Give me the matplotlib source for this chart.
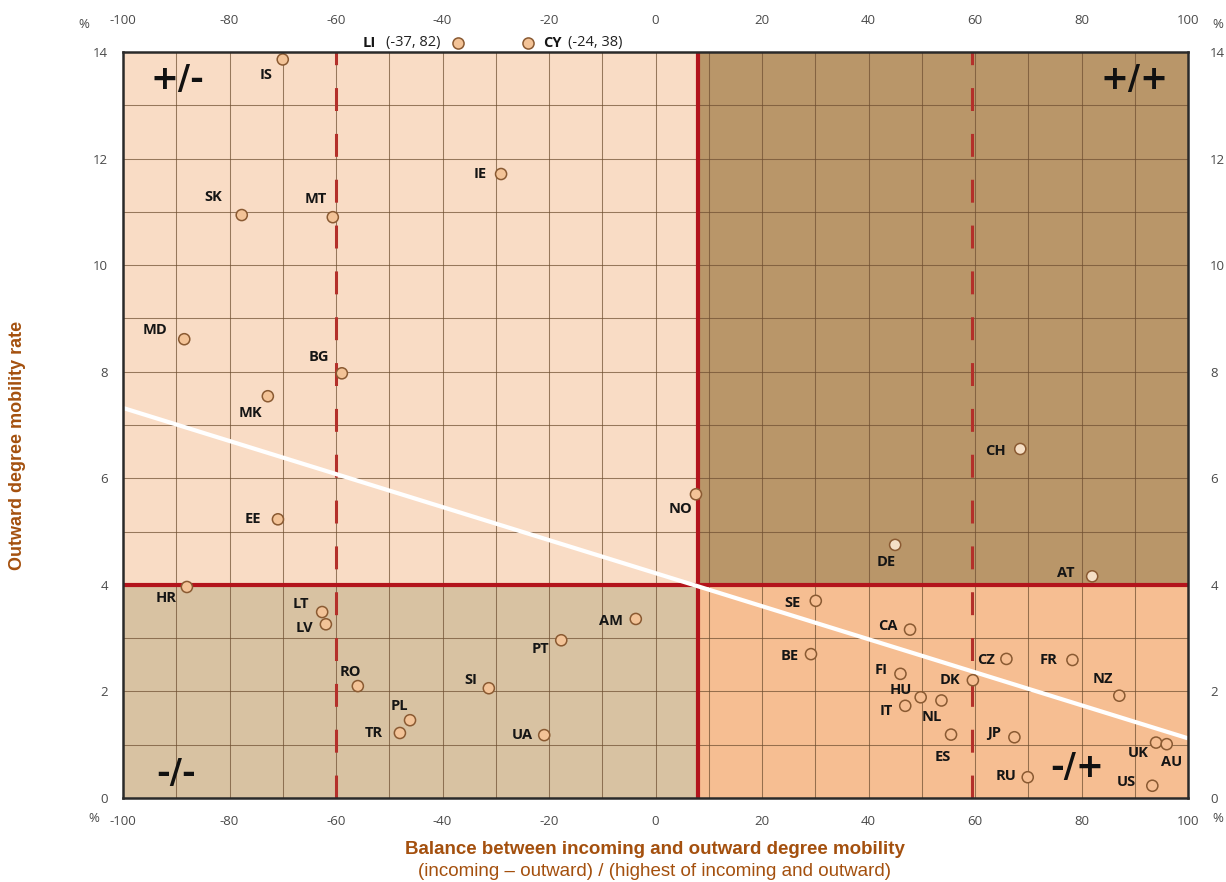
import matplotlib
matplotlib.use("Agg")
import matplotlib.pyplot as plt
from matplotlib.patches import Rectangle
import matplotlib.transforms as mtransforms
import numpy as np

plt.rcParams['axes.unicode_minus'] = False
plt.rcParams['font.family'] = ['Open Sans', 'DejaVu Sans']

# ---- data ----
countries = ["IS", "IE", "SK", "MT", "MD", "BG", "MK", "EE", "NO", "CH", "DE", "AT",
             "HR", "LT", "LV", "AM", "PT", "RO", "SI", "PL", "TR", "UA",
             "SE", "CA", "BE", "CZ", "FR", "FI", "DK", "HU", "IT", "NL", "ES",
             "JP", "RU", "NZ", "UK", "AU", "US"]
balance = [-70.0, -29.0, -77.7, -60.6, -88.5, -58.9, -72.8, -70.9, 7.6, 68.5, 45.0, 82.0,
           -88.0, -62.6, -61.9, -3.7, -17.7, -55.9, -31.3, -46.1, -48.0, -20.9,
           30.1, 47.8, 29.2, 65.9, 78.3, 46.0, 59.6, 49.8, 46.9, 53.7, 55.5,
           67.4, 69.9, 87.1, 94.0, 96.0, 93.3]
outward = [13.86, 11.71, 10.94, 10.90, 8.61, 7.97, 7.54, 5.23, 5.70, 6.55, 4.75, 4.16,
           3.96, 3.49, 3.26, 3.36, 2.96, 2.10, 2.06, 1.46, 1.22, 1.18,
           3.70, 3.16, 2.70, 2.61, 2.59, 2.33, 2.21, 1.89, 1.73, 1.83, 1.19,
           1.14, 0.39, 1.92, 1.04, 1.01, 0.23]

# off-scale countries (shown above the chart)
off_names = ["LI", "CY"]
off_balance = [-37, -24]
off_outward = [82, 38]

trend_x = [-100, 100]
trend_y = [7.32, 1.12]

x_split = 8.0
y_split = 4.0
dash_x = [-60, 59.4]

x_ticks = [-100, -80, -60, -40, -20, 0, 20, 40, 60, 80, 100]
y_ticks = [0, 2, 4, 6, 8, 10, 12, 14]

# ---- label offsets (pixels) ----
label_off = {
    "IS": (-17, -16), "IE": (-21, 0), "SK": (-28, 18), "MT": (-17, 18), "MD": (-29, 9),
    "BG": (-23, 16), "MK": (-17, -17), "EE": (-25, 0), "NO": (-15, -15), "CH": (-25, -2),
    "DE": (-9, -17), "AT": (-26, 3), "HR": (-21, -11), "LT": (-21, 8), "LV": (-21, -4),
    "AM": (-25, -2), "PT": (-21, -9), "RO": (-7, 14), "SI": (-18, 8), "PL": (-11, 14),
    "TR": (-26, 0), "UA": (-22, 0), "SE": (-23, -2), "CA": (-22, 4), "BE": (-21, -2),
    "CZ": (-20, -1), "FR": (-24, 0), "FI": (-19, 4), "DK": (-23, 0), "HU": (-20, 7),
    "IT": (-19, -5), "NL": (-10, -17), "ES": (-8, -22), "JP": (-20, 4), "RU": (-22, 1),
    "NZ": (-16, 17), "UK": (-18, -10), "AU": (5, -18), "US": (-26, 4),
}

c_tl = "#f9dcc5"
c_tr = "#b99669"
c_bl = "#d8c2a2"
c_br = "#f6be92"
red = "#b3141c"
brown_txt = "#a4500e"
tick_col = "#4a4a4a"

fig = plt.figure(figsize=(12.26, 8.82), dpi=100)
ax = fig.add_axes([123/1226, 1 - 798/882, (1188-123)/1226, (798-52)/882])
ax.set_xlim(-100, 100)
ax.set_ylim(0, 14)

# quadrants
ax.add_patch(Rectangle((-100, y_split), x_split + 100, 14 - y_split, color=c_tl, zorder=0, lw=0))
ax.add_patch(Rectangle((x_split, y_split), 100 - x_split, 14 - y_split, color=c_tr, zorder=0, lw=0))
ax.add_patch(Rectangle((-100, 0), x_split + 100, y_split, color=c_bl, zorder=0, lw=0))
ax.add_patch(Rectangle((x_split, 0), 100 - x_split, y_split, color=c_br, zorder=0, lw=0))

# grid
ax.set_xticks(x_ticks)
ax.set_xticks(np.arange(-90, 100, 20), minor=True)
ax.set_yticks(y_ticks)
ax.set_yticks(np.arange(1, 14, 2), minor=True)
ax.grid(True, which="both", color="#6e4e30", lw=0.75, alpha=0.7, zorder=1)
ax.set_axisbelow(True)

ax.tick_params(which="both", length=0)
ax.tick_params(axis="x", labeltop=True, labelbottom=True, labelsize=9.5, colors=tick_col, pad=12)
ax.tick_params(axis="y", labelleft=True, labelright=True, labelsize=9.5, colors=tick_col, pad=11)
ax.set_xticklabels([str(v) for v in x_ticks])
ax.set_yticklabels([str(v) for v in y_ticks])
for t in ax.xaxis.get_major_ticks():
    t.label2.set_transform(t.label2.get_transform() +
                           mtransforms.ScaledTranslation(0, 8/100, fig.dpi_scale_trans))
for t in ax.yaxis.get_major_ticks():
    t.label2.set_transform(t.label2.get_transform() +
                           mtransforms.ScaledTranslation(7/100, 0, fig.dpi_scale_trans))

for s in ax.spines.values():
    s.set_color("#2a2a2a")
    s.set_linewidth(1.8)
    s.set_zorder(6)

# divider lines
ax.axhline(y_split, color=red, lw=3, zorder=3)
ax.axvline(x_split, color=red, lw=3, zorder=3)
for dx in dash_x:
    ax.plot([dx, dx], [0, 14], color="#b4302a", lw=2.2, dashes=(7.5, 7.5), zorder=3)

# trend line
ax.plot(trend_x, trend_y, color="white", lw=3, zorder=4, solid_capstyle="butt")

# points
def fill_for(x, y):
    if x >= x_split and y < y_split:
        return c_br
    if x >= x_split:
        return "#f5dfc6"
    return "#f3c397"

fills = [fill_for(x, y) for x, y in zip(balance, outward)]
ax.scatter(balance, outward, s=64, c=fills, edgecolors="#8a5a32", linewidths=1.1, zorder=5)

for name, x, y in zip(countries, balance, outward):
    ox, oy = label_off[name]
    ax.annotate(name, (x, y), xytext=(ox, oy), textcoords="offset pixels",
                ha="center", va="center", fontsize=10.5, fontweight="bold",
                color="#151515", zorder=6)

# off-scale markers above the chart
ax.scatter(off_balance, [14.17] * len(off_balance), s=64, c="#f3c397",
           edgecolors="#8a5a32", linewidths=1.1, zorder=7, clip_on=False)
for i, (name, xv, val) in enumerate(zip(off_names, off_balance, off_outward)):
    if i == 0:
        ax.annotate(f"({xv}, {val})", (xv, 14.17), xytext=(-18, 0), textcoords="offset pixels",
                    ha="right", va="center", fontsize=10.5, color="#222", annotation_clip=False)
        ax.annotate(name, (xv, 14.17), xytext=(-83, 0), textcoords="offset pixels",
                    ha="right", va="center", fontsize=10.5, fontweight="bold", color="#151515",
                    annotation_clip=False)
    else:
        ax.annotate(name, (xv, 14.17), xytext=(15, 0), textcoords="offset pixels",
                    ha="left", va="center", fontsize=10.5, fontweight="bold", color="#151515",
                    annotation_clip=False)
        ax.annotate(f"({xv}, {val})", (xv, 14.17), xytext=(40, 0), textcoords="offset pixels",
                    ha="left", va="center", fontsize=10.5, color="#222", annotation_clip=False)

# quadrant labels
qkw = dict(fontsize=24, fontweight="bold", color="#111", ha="center", va="center",
           family="DejaVu Sans", transform=ax.transAxes, zorder=6)
ax.text((177-123)/1065, (798-80)/746, "+/-", **qkw)
ax.text((1135-123)/1065, (798-80)/746, "+/+", **qkw)
ax.text((176-123)/1065, (798-774)/746, "-/-", **qkw)
ax.text((1077-123)/1065, (798-768)/746, "-/+", **qkw)

# percent signs
pk = dict(fontsize=9.5, color=tick_col, ha="center", va="center")
fig.text(84/1226, 1 - 24/882, "%", **pk)
fig.text(94/1226, 1 - 818/882, "%", **pk)
fig.text(1218/1226, 1 - 24/882, "%", **pk)
fig.text(1218/1226, 1 - 818/882, "%", **pk)

# axis titles
fig.text(18/1226, 1 - 445/882, "Outward degree mobility rate", rotation=90,
         ha="center", va="center", fontsize=13, fontweight="bold", color=brown_txt,
         family="Liberation Sans")
fig.text(655/1226, 1 - 849/882, "Balance between incoming and outward degree mobility",
         ha="center", va="center", fontsize=13.5, fontweight="bold", color=brown_txt,
         family="Liberation Sans")
fig.text(655/1226, 1 - 872/882, "(incoming \u2013 outward) / (highest of incoming and outward)",
         ha="center", va="center", fontsize=13.5, color=brown_txt, family="Liberation Sans")

fig.savefig("out.png", dpi=100, facecolor="white")
